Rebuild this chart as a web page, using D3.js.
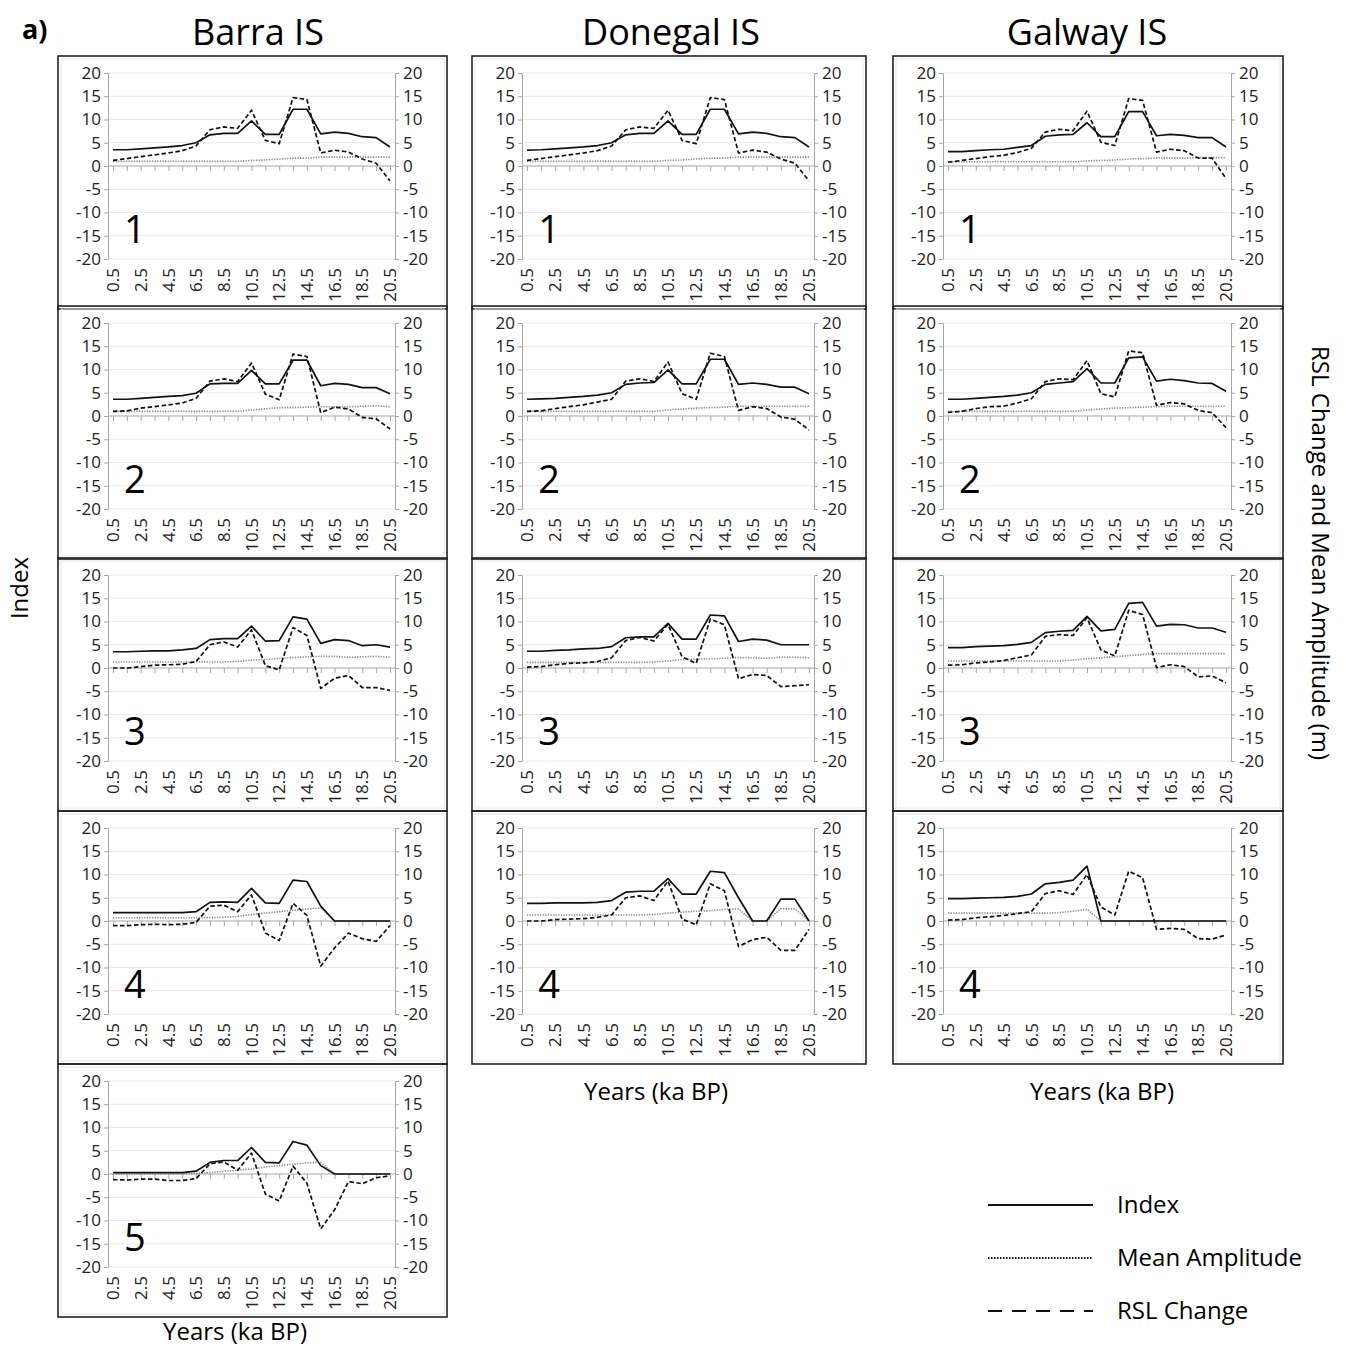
<!DOCTYPE html>
<html>
<head>
<meta charset="utf-8">
<script src="https://cdn.jsdelivr.net/npm/d3@7"></script>
<style>
  body { margin: 0; background: #fff; }
  svg text { font-family: "Open Sans", "DejaVu Sans", sans-serif; }
</style>
</head>
<body>
<div id="chart"></div>
<script>
// x categories (ka BP) and the labels that are printed
const years = [0.5, 1.5, 2.5, 3.5, 4.5, 5.5, 6.5, 7.5, 8.5, 9.5, 10.5, 11.5, 12.5, 13.5, 14.5, 15.5, 16.5, 17.5, 18.5, 19.5, 20.5]
const xLabels = ["0.5", "2.5", "4.5", "6.5", "8.5", "10.5", "12.5", "14.5", "16.5", "18.5", "20.5"]
const yTicks = [-20, -15, -10, -5, 0, 5, 10, 15, 20]
const sites = ["Barra IS", "Donegal IS", "Galway IS"]

// Barra IS
const barra1Index = [3.5, 3.5, 3.7, 3.9, 4.1, 4.4, 5.0, 6.7, 7.0, 7.0, 9.7, 6.8, 6.8, 12.2, 12.2, 6.9, 7.3, 7.0, 6.3, 6.1, 4.1]
const barra1Mean  = [1.0, 1.0, 1.0, 1.0, 1.0, 1.0, 1.0, 1.0, 1.0, 1.0, 1.2, 1.3, 1.5, 1.7, 1.7, 1.9, 1.9, 1.9, 1.9, 1.9, 1.9]
const barra1Rsl   = [1.2, 1.6, 2.0, 2.4, 2.8, 3.3, 4.3, 7.8, 8.4, 8.1, 12.0, 5.5, 4.8, 14.7, 14.3, 2.8, 3.4, 3.0, 1.5, 0.6, -3.2]

const barra2Index = [3.6, 3.6, 3.8, 4.0, 4.2, 4.4, 4.9, 6.9, 7.0, 7.0, 9.8, 6.9, 6.9, 12.0, 12.0, 6.5, 7.0, 6.8, 6.1, 6.1, 4.8]
const barra2Mean  = [1.0, 1.0, 1.0, 1.0, 1.0, 1.0, 1.0, 1.0, 1.0, 1.0, 1.3, 1.5, 1.8, 1.8, 1.9, 2.0, 2.0, 2.0, 2.1, 2.2, 2.0]
const barra2Rsl   = [1.0, 1.1, 1.7, 2.0, 2.4, 2.8, 3.8, 7.5, 8.0, 7.4, 11.4, 4.7, 3.5, 13.3, 12.8, 0.7, 1.9, 1.5, -0.3, -0.6, -2.8]

const barra3Index = [3.5, 3.5, 3.6, 3.7, 3.7, 3.9, 4.2, 6.1, 6.3, 6.3, 9.0, 5.8, 5.9, 11.0, 10.5, 5.3, 6.1, 5.9, 4.8, 5.0, 4.5]
const barra3Mean  = [1.3, 1.3, 1.3, 1.3, 1.3, 1.3, 1.3, 1.3, 1.3, 1.4, 1.7, 1.8, 2.1, 2.2, 2.4, 2.5, 2.5, 2.3, 2.4, 2.5, 2.3]
const barra3Rsl   = [0.0, 0.0, 0.3, 0.6, 0.7, 0.8, 1.4, 5.0, 5.6, 4.5, 8.2, 0.5, -0.4, 8.7, 7.0, -4.4, -2.2, -1.6, -4.2, -4.2, -4.8]

const barra4Index = [1.8, 1.8, 1.8, 1.8, 1.8, 1.8, 2.0, 4.0, 4.1, 4.0, 7.0, 3.9, 3.8, 8.8, 8.5, 3.2, 0, 0, 0, 0, 0]
const barra4Mean  = [0.7, 0.7, 0.7, 0.7, 0.7, 0.7, 0.7, 0.7, 0.8, 1.0, 1.4, 1.7, 2.0, 2.3, 2.6, 2.8, 0, 0, 0, 0, 0]
const barra4Rsl   = [-1.0, -1.0, -0.8, -0.7, -0.8, -0.7, -0.3, 3.2, 3.4, 2.0, 5.6, -2.6, -4.2, 3.8, 1.2, -9.7, -5.8, -2.6, -3.8, -4.4, -1.0]

const barra5Index = [0.3, 0.3, 0.3, 0.3, 0.3, 0.3, 0.6, 2.5, 2.9, 2.9, 5.7, 2.5, 2.4, 7.0, 6.2, 1.8, 0, 0, 0, 0, 0]
const barra5Mean  = [0, 0, 0, 0, 0, 0, 0.1, 0.3, 0.6, 0.8, 1.1, 1.5, 1.8, 2.1, 2.4, 2.5, 0, 0, 0, 0, 0]
const barra5Rsl   = [-1.2, -1.3, -1.1, -1.1, -1.4, -1.4, -1.0, 2.2, 2.6, 0.8, 4.5, -4.3, -5.8, 1.7, -2.0, -11.8, -7.7, -1.6, -2.1, -0.8, -0.4]

// Donegal IS
const donegal1Index = [3.4, 3.5, 3.7, 3.9, 4.1, 4.4, 5.0, 6.7, 7.0, 7.0, 9.7, 6.8, 6.8, 12.2, 12.2, 6.9, 7.3, 7.0, 6.3, 6.1, 4.1]
const donegal1Mean  = [1.0, 1.0, 1.0, 1.0, 1.0, 1.0, 1.0, 1.0, 1.0, 1.0, 1.2, 1.3, 1.5, 1.7, 1.7, 1.9, 1.9, 1.9, 1.9, 1.9, 1.9]
const donegal1Rsl   = [1.2, 1.6, 2.0, 2.4, 2.8, 3.3, 4.3, 7.8, 8.4, 8.1, 12.0, 5.5, 4.8, 14.7, 14.3, 2.8, 3.4, 3.0, 1.5, 0.6, -3.2]

const donegal2Index = [3.6, 3.7, 3.8, 4.0, 4.2, 4.5, 5.0, 6.8, 7.1, 7.2, 9.9, 6.9, 6.9, 12.2, 12.2, 6.8, 7.1, 6.8, 6.2, 6.2, 4.8]
const donegal2Mean  = [1.0, 1.0, 1.0, 1.0, 1.0, 1.0, 1.0, 1.0, 1.0, 1.0, 1.3, 1.5, 1.7, 1.8, 1.9, 2.1, 2.1, 2.1, 2.1, 2.1, 2.1]
const donegal2Rsl   = [1.0, 1.1, 1.6, 2.0, 2.4, 3.0, 3.6, 7.5, 8.0, 7.4, 11.6, 4.8, 3.6, 13.5, 12.8, 1.2, 2.0, 1.6, -0.2, -0.7, -3.0]

const donegal3Index = [3.6, 3.6, 3.8, 3.9, 4.1, 4.2, 4.6, 6.5, 6.7, 6.7, 9.6, 6.2, 6.2, 11.4, 11.2, 5.7, 6.2, 6.0, 5.0, 5.0, 5.0]
const donegal3Mean  = [1.2, 1.2, 1.2, 1.2, 1.2, 1.2, 1.2, 1.2, 1.2, 1.3, 1.5, 1.8, 1.9, 2.0, 2.1, 2.2, 2.2, 2.1, 2.3, 2.3, 2.2]
const donegal3Rsl   = [0.2, 0.3, 0.7, 1.0, 1.1, 1.4, 2.2, 5.9, 6.6, 5.8, 9.4, 2.4, 1.0, 10.5, 9.3, -2.3, -1.4, -1.6, -4.0, -3.8, -3.6]

const donegal4Index = [3.8, 3.8, 3.9, 3.9, 3.9, 4.0, 4.4, 6.2, 6.4, 6.4, 9.1, 5.8, 5.8, 10.7, 10.4, 5.0, 0, 0, 4.7, 4.7, 0]
const donegal4Mean  = [1.3, 1.3, 1.3, 1.3, 1.3, 1.3, 1.3, 1.3, 1.3, 1.4, 1.7, 1.9, 2.1, 2.2, 2.5, 2.6, 0, 0, 2.6, 2.6, 0]
const donegal4Rsl   = [0.0, 0.0, 0.3, 0.4, 0.5, 0.8, 1.3, 5.0, 5.4, 4.4, 8.6, 0.4, -0.8, 8.0, 6.5, -5.5, -4.0, -3.5, -6.3, -6.3, -1.8]

// Galway IS
const galway1Index = [3.1, 3.1, 3.3, 3.5, 3.6, 4.0, 4.4, 6.4, 6.7, 6.8, 9.3, 6.3, 6.3, 11.7, 11.7, 6.5, 6.8, 6.6, 6.1, 6.1, 4.1]
const galway1Mean  = [0.9, 0.9, 0.9, 0.9, 0.9, 0.9, 0.9, 0.9, 0.9, 0.9, 1.1, 1.2, 1.3, 1.5, 1.6, 1.7, 1.7, 1.7, 1.8, 1.8, 1.8]
const galway1Rsl   = [0.8, 1.2, 1.6, 2.0, 2.3, 2.9, 3.8, 7.3, 7.9, 7.6, 11.8, 5.1, 4.4, 14.5, 14.1, 3.0, 3.6, 3.3, 1.7, 1.7, -2.7]

const galway2Index = [3.6, 3.6, 3.8, 4.0, 4.2, 4.5, 5.0, 6.8, 7.1, 7.4, 10.2, 7.1, 7.1, 12.5, 12.7, 7.5, 7.9, 7.6, 7.1, 7.0, 5.3]
const galway2Mean  = [1.0, 1.0, 1.0, 1.0, 1.0, 1.0, 1.0, 1.0, 1.0, 1.0, 1.3, 1.5, 1.7, 1.8, 1.9, 2.0, 2.1, 2.1, 2.1, 2.1, 2.1]
const galway2Rsl   = [0.8, 1.0, 1.6, 2.0, 2.1, 2.8, 3.7, 7.4, 8.0, 7.8, 11.9, 4.8, 4.1, 14.0, 13.6, 2.3, 2.9, 2.6, 1.2, 0.7, -2.5]

const galway3Index = [4.4, 4.4, 4.6, 4.7, 4.8, 5.1, 5.5, 7.6, 7.9, 8.1, 11.1, 8.0, 8.3, 13.9, 14.1, 9.0, 9.4, 9.3, 8.6, 8.6, 7.7]
const galway3Mean  = [1.5, 1.5, 1.5, 1.5, 1.5, 1.5, 1.5, 1.5, 1.5, 1.7, 2.0, 2.2, 2.4, 2.7, 2.9, 3.1, 3.1, 3.1, 3.1, 3.1, 3.1]
const galway3Rsl   = [0.6, 0.7, 1.1, 1.3, 1.6, 2.2, 2.8, 6.8, 7.2, 7.0, 10.8, 3.9, 2.6, 12.4, 11.5, 0.1, 0.7, 0.3, -1.9, -1.7, -3.2]

const galway4Index = [4.8, 4.8, 4.9, 5.0, 5.1, 5.3, 5.8, 8.0, 8.3, 8.8, 11.8, 0, 0, 0, 0, 0, 0, 0, 0, 0, 0]
const galway4Mean  = [1.7, 1.7, 1.7, 1.7, 1.7, 1.7, 1.7, 1.7, 1.8, 2.1, 2.5, 0, 0, 0, 0, 0, 0, 0, 0, 0, 0]
const galway4Rsl   = [0.2, 0.3, 0.7, 0.9, 1.2, 1.6, 2.0, 5.9, 6.5, 5.7, 10.0, 3.0, 1.3, 10.7, 9.3, -1.8, -1.6, -1.8, -3.8, -3.9, -3.0]

const panels = [
    { col: 0, row: 0, num: "1", index: barra1Index, mean: barra1Mean, rsl: barra1Rsl },
    { col: 0, row: 1, num: "2", index: barra2Index, mean: barra2Mean, rsl: barra2Rsl },
    { col: 0, row: 2, num: "3", index: barra3Index, mean: barra3Mean, rsl: barra3Rsl },
    { col: 0, row: 3, num: "4", index: barra4Index, mean: barra4Mean, rsl: barra4Rsl },
    { col: 0, row: 4, num: "5", index: barra5Index, mean: barra5Mean, rsl: barra5Rsl },
    { col: 1, row: 0, num: "1", index: donegal1Index, mean: donegal1Mean, rsl: donegal1Rsl },
    { col: 1, row: 1, num: "2", index: donegal2Index, mean: donegal2Mean, rsl: donegal2Rsl },
    { col: 1, row: 2, num: "3", index: donegal3Index, mean: donegal3Mean, rsl: donegal3Rsl },
    { col: 1, row: 3, num: "4", index: donegal4Index, mean: donegal4Mean, rsl: donegal4Rsl },
    { col: 2, row: 0, num: "1", index: galway1Index, mean: galway1Mean, rsl: galway1Rsl },
    { col: 2, row: 1, num: "2", index: galway2Index, mean: galway2Mean, rsl: galway2Rsl },
    { col: 2, row: 2, num: "3", index: galway3Index, mean: galway3Mean, rsl: galway3Rsl },
    { col: 2, row: 3, num: "4", index: galway4Index, mean: galway4Mean, rsl: galway4Rsl }
]

const legendItems = ["Index", "Mean Amplitude", "RSL Change"]

// layout
const width = 1346, height = 1350
const cols = [{ x: 58, w: 389, cx: 258 }, { x: 472, w: 394, cx: 671 }, { x: 893, w: 390, cx: 1087 }]
const rowTops = [56, 306, 558, 811, 1064]
const rowH = 253
const plotTop = 17, plotH = 186

const styles = {
    index: { stroke: "#111", width: 1.7, dash: null },
    mean:  { stroke: "#8c8c8c", width: 1.6, dash: "1.3,1.3" },
    rsl:   { stroke: "#111", width: 1.7, dash: "4.5,2.5" }
}

const svg = d3.select("#chart").append("svg")
    .attr("width", width)
    .attr("height", height)

svg.append("rect").attr("width", width).attr("height", height).attr("fill", "#fff")

function draw_panel(p)
{
    const col = cols[p.col]
    const g = svg.append("g")
        .attr("transform", `translate(${col.x}, ${rowTops[p.row]})`)

    const axL = 50, axR = col.w - 52
    const y = d3.scaleLinear().domain([-20, 20]).range([plotTop + plotH, plotTop])
    const x = d3.scaleLinear().domain([years[0], years[years.length - 1]]).range([axL + 5, axR - 5])

    // faint inner chart frame
    g.append("rect")
        .attr("x", 3).attr("y", 3)
        .attr("width", col.w - 6).attr("height", rowH - 6)
        .attr("fill", "none").attr("stroke", "#e6e6e6")

    // gridlines
    g.append("g").selectAll("line")
        .data(yTicks.filter(t => t !== 0))
        .enter().append("line")
        .attr("x1", axL).attr("x2", axR)
        .attr("y1", d => y(d)).attr("y2", d => y(d))
        .attr("stroke", "#e8e8e8").attr("stroke-width", 1)

    const fmt = d => String(d)   // plain hyphen, as in the original
    const left = g.append("g")
        .attr("transform", `translate(${axL}, 0)`)
        .call(d3.axisLeft(y).tickValues(yTicks).tickFormat(fmt).tickSize(4).tickSizeOuter(0).tickPadding(3))
    const right = g.append("g")
        .attr("transform", `translate(${axR}, 0)`)
        .call(d3.axisRight(y).tickValues(yTicks).tickFormat(fmt).tickSize(4).tickSizeOuter(0).tickPadding(4))
    ;[left, right].forEach(a => {
        a.selectAll("path, line").attr("stroke", "#a6a6a6")
        a.selectAll("text").attr("fill", "#222").style("font-size", "17px")
            .style("font-family", "'Open Sans', sans-serif")
    })

    // zero line with category ticks
    g.append("line")
        .attr("x1", axL).attr("x2", axR)
        .attr("y1", y(0)).attr("y2", y(0))
        .attr("stroke", "#a6a6a6").attr("stroke-width", 1.2)
    const xAxis = g.append("g")
        .attr("transform", `translate(0, ${y(0)})`)
        .call(d3.axisBottom(x).tickValues(years).tickSize(5).tickSizeOuter(0).tickFormat(""))
    xAxis.select(".domain").remove()
    xAxis.selectAll("line").attr("stroke", "#a6a6a6")

    // rotated year labels below the plot
    g.append("g").selectAll("text")
        .data(xLabels)
        .enter().append("text")
        .attr("transform", d => `translate(${x(+d)}, ${plotTop + plotH + 9}) rotate(-90)`)
        .attr("text-anchor", "end")
        .attr("dy", "0.36em")
        .attr("fill", "#222")
        .style("font-size", "17px")
        .text(d => d)

    const line = d3.line().x((d, i) => x(years[i])).y(d => y(d))
    ;["mean", "index", "rsl"].forEach(k => {
        g.append("path")
            .datum(p[k])
            .attr("fill", "none")
            .attr("stroke", styles[k].stroke)
            .attr("stroke-width", styles[k].width)
            .attr("stroke-dasharray", styles[k].dash)
            .attr("stroke-linejoin", "round")
            .attr("d", line)
    })

    // panel number
    g.append("text")
        .attr("x", x(years[1]) + 8)
        .attr("y", plotTop + plotH - 16)
        .attr("text-anchor", "middle")
        .attr("fill", "#000")
        .style("font-size", "38px")
        .text(p.num)

    // outer box
    g.append("rect")
        .attr("width", col.w).attr("height", rowH)
        .attr("fill", "none").attr("stroke", "#222").attr("stroke-width", 1.6)
}

panels.forEach(draw_panel)

// titles
svg.append("text").attr("x", 22).attr("y", 39)
    .style("font-size", "27px").style("font-weight", "bold").text("a)")

svg.append("g").selectAll("text")
    .data(sites)
    .enter().append("text")
    .attr("x", (d, i) => cols[i].cx)
    .attr("y", 45)
    .attr("text-anchor", "middle")
    .style("font-size", "36px")
    .text(d => d)

// axis titles
svg.append("text")
    .attr("transform", "translate(28, 588) rotate(-90)")
    .attr("text-anchor", "middle")
    .style("font-size", "24px")
    .text("Index")

svg.append("text")
    .attr("transform", "translate(1312, 553) rotate(90)")
    .attr("text-anchor", "middle")
    .style("font-size", "24px")
    .text("RSL Change and Mean Amplitude (m)")

const xTitles = [[235, 1340], [656, 1100], [1102, 1100]]
xTitles.forEach(t => {
    svg.append("text")
        .attr("x", t[0]).attr("y", t[1])
        .attr("text-anchor", "middle")
        .style("font-size", "24px")
        .text("Years (ka BP)")
})

// legend
const legendKeys = ["index", "mean", "rsl"]
const legend = svg.append("g").attr("transform", "translate(988, 1205)")
legendItems.forEach((label, i) => {
    const k = legendKeys[i]
    legend.append("line")
        .attr("x1", 0).attr("x2", 105)
        .attr("y1", i * 53).attr("y2", i * 53)
        .attr("stroke", "#111")
        .attr("stroke-width", k === "mean" ? 1.8 : 2)
        .attr("stroke-dasharray", k === "mean" ? "1.5,1.5" : (k === "rsl" ? "14,10" : null))
    legend.append("text")
        .attr("x", 129).attr("y", i * 53)
        .attr("dy", "0.35em")
        .style("font-size", "24px")
        .text(label)
})
</script>
</body>
</html>
